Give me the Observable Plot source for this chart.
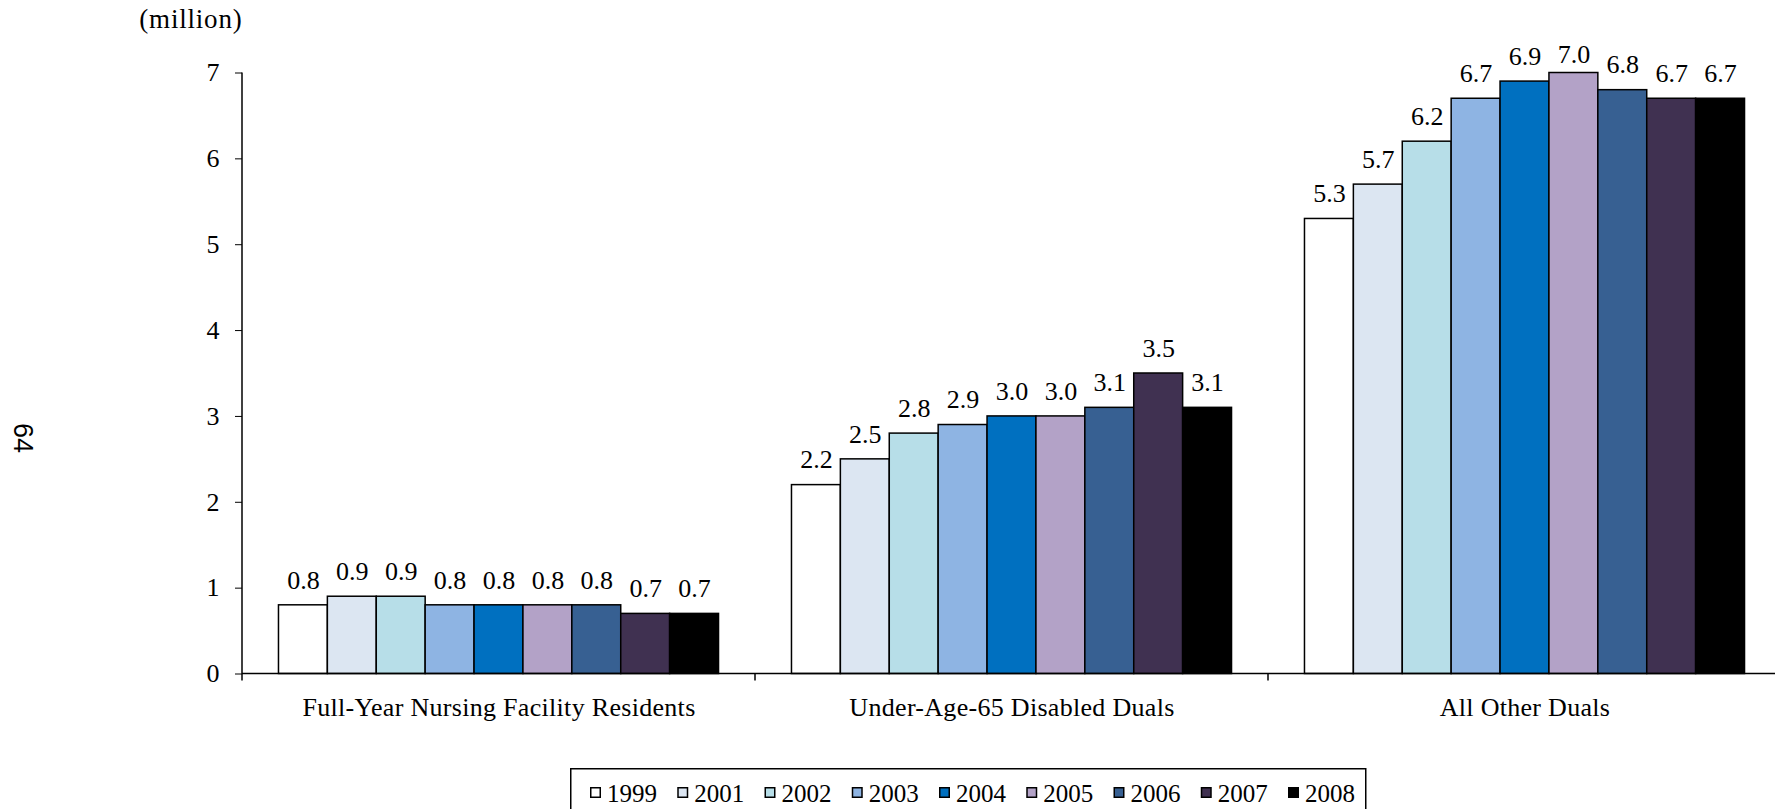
<!DOCTYPE html>
<html>
<head>
<meta charset="utf-8">
<script src="https://cdn.jsdelivr.net/npm/d3@7"></script>
<script src="https://cdn.jsdelivr.net/npm/@observablehq/plot@0.6"></script>
<style>
  html, body { margin: 0; padding: 0; background: #fff; overflow: hidden; }
  #wrap { position: relative; width: 1775px; height: 809px; overflow: hidden; }
  #wrap svg { display: block; }
  #page { position: absolute; left: 3px; top: 423px; width: 40px; height: 30px; line-height: 30px;
          text-align: center; font-family: "Liberation Sans", Arial, sans-serif; font-size: 27px;
          transform: rotate(90deg); color: #000; }
</style>
</head>
<body>
<div id="wrap"></div>
<script>
const categories = ["Full-Year Nursing Facility Residents", "Under-Age-65 Disabled Duals", "All Other Duals"];
const years = ["1999", "2001", "2002", "2003", "2004", "2005", "2006", "2007", "2008"];
const nursingFacility = [0.8, 0.9, 0.9, 0.8, 0.8, 0.8, 0.8, 0.7, 0.7];
const underAge65Disabled = [2.2, 2.5, 2.8, 2.9, 3.0, 3.0, 3.1, 3.5, 3.1];
const allOtherDuals = [5.3, 5.7, 6.2, 6.7, 6.9, 7.0, 6.8, 6.7, 6.7];
const yearColors = ["#ffffff", "#dce6f2", "#b7dee8", "#8eb4e3", "#0070c0", "#b3a2c7", "#376092", "#403151", "#000000"];
const yTicks = [0, 1, 2, 3, 4, 5, 6, 7];
const yUnitLabel = "(million)";
const pageNumber = "64";

const series = [nursingFacility, underAge65Disabled, allOtherDuals];
const data = categories.flatMap((c, i) => years.map((yr, j) => ({category: c, year: yr, value: series[i][j]})));

const W = 1775, H = 760;
const serif = "'Liberation Serif','Times New Roman',serif";
const labelCeiling = 6.92; // value labels are kept inside the plot area, as in the original

const plot = Plot.plot({
  width: W,
  height: H,
  marginLeft: 242,
  marginRight: -6,
  marginTop: 72.5,
  marginBottom: 86.5,
  style: {fontFamily: serif, fontSize: "26px", color: "#000", background: "#fff", overflow: "hidden"},
  fx: {domain: categories, padding: 0, round: false, label: null, axis: "bottom", tickSize: 0, tickPadding: 24},
  x: {domain: years, paddingInner: 0, paddingOuter: 0.746, round: false, axis: null},
  y: {domain: [0, 7], ticks: yTicks, tickSize: 7, tickPadding: 16, label: null, tickFormat: d => String(d)},
  color: {domain: years, range: yearColors},
  marks: [
    Plot.barY(data, {fx: "category", x: "year", y: "value", fill: "year", stroke: "#000", strokeWidth: 1.5}),
    Plot.text(data, {fx: "category", x: "year", y: d => Math.min(d.value, labelCeiling), text: d => d.value.toFixed(1),
                     lineAnchor: "middle", dy: -25, fill: "#000"}),
    Plot.text([yUnitLabel], {fx: [categories[0]], frameAnchor: "top-left", lineAnchor: "middle", textAnchor: "end",
                             dy: -53.8, text: d => d, fill: "#000", fontSize: 27})
  ]
});

// axis lines (baseline, y-axis line, category boundary ticks) from the plot's own scales
const svg = d3.select(plot);
const ys = plot.scale("y"), fxs = plot.scale("fx");
const y0 = ys.apply(0), yTop = ys.apply(7);
const left = fxs.apply(categories[0]);
const right = fxs.apply(categories[categories.length - 1]) + fxs.bandwidth;
const g = svg.append("g").attr("stroke", "#000").attr("stroke-width", 1.5).attr("fill", "none");
g.append("line").attr("x1", left).attr("x2", left).attr("y1", yTop).attr("y2", y0 + 7);
g.append("line").attr("x1", left).attr("x2", right).attr("y1", y0).attr("y2", y0);
categories.slice(1).forEach(c => {
  const x = fxs.apply(c);
  g.append("line").attr("x1", x).attr("x2", x).attr("y1", y0).attr("y2", y0 + 7);
});
svg.selectAll('g[aria-label="fx-axis tick label"] text').attr("letter-spacing", "0.3px");
svg.selectAll('text').filter(function() { return this.textContent === yUnitLabel; }).attr("letter-spacing", "0.8px");

const wrap = document.getElementById("wrap");
wrap.appendChild(plot);

const page = document.createElement("div");
page.id = "page";
page.textContent = pageNumber;
wrap.appendChild(page);

// legend below the chart, drawn with the plot's colour scale
const color = plot.scale("color");
const LH = 49;
const leg = d3.select(wrap).append("svg")
  .attr("width", W).attr("height", LH)
  .style("display", "block")
  .style("font-family", serif).style("font-size", "25px");
leg.append("rect").attr("x", 570.75).attr("y", 8.75).attr("width", 795).attr("height", 80)
  .attr("fill", "none").attr("stroke", "#000").attr("stroke-width", 1.5);
const itemStep = 87.25;
years.forEach((yr, i) => {
  const x = 590 + i * itemStep;
  leg.append("rect").attr("x", x + 0.75).attr("y", 27.75).attr("width", 9.5).attr("height", 9.5)
    .attr("fill", color.apply(yr)).attr("stroke", "#000").attr("stroke-width", 1.5);
  leg.append("text").attr("x", x + 17).attr("y", 42.3).attr("fill", "#000").text(yr);
});
</script>
</body>
</html>
